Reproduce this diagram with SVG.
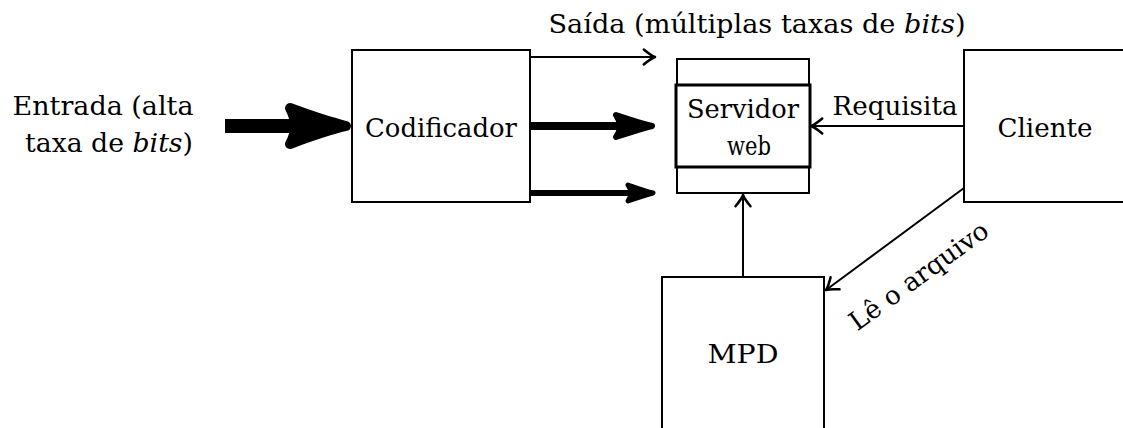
<svg xmlns="http://www.w3.org/2000/svg" width="1123" height="428" viewBox="0 0 1123 428">
<style>
text{font-family:'DejaVu Serif','Liberation Serif',serif;font-size:26px;fill:#000}
.box{fill:#fff;stroke:#000;stroke-width:2}
.thin{fill:none;stroke:#000;stroke-width:2}
</style>
<defs>
<marker id="to" markerUnits="userSpaceOnUse" markerWidth="20" markerHeight="20" viewBox="-12 -8 16 16" refX="0" refY="0" orient="auto">
<path d="M-9,-6 Q-3,-1 0,0 Q-3,1 -9,6" fill="none" stroke="#000" stroke-width="2" stroke-linecap="round" stroke-linejoin="round"/>
</marker>
</defs>
<g id="input-label">
<text x="103" y="115" text-anchor="middle" textLength="181" lengthAdjust="spacingAndGlyphs">Entrada (alta</text>
<text x="109" y="152" text-anchor="middle" textLength="168" lengthAdjust="spacingAndGlyphs">taxa de <tspan font-style="italic">bits</tspan>)</text>
</g>
<g id="output-label">
<text x="757" y="33" text-anchor="middle" textLength="417" lengthAdjust="spacingAndGlyphs">Saída (múltiplas taxas de <tspan font-style="italic">bits</tspan>)</text>
</g>
<g id="codificador">
<rect class="box" x="352" y="50" width="178" height="152"/>
<text x="441" y="137" text-anchor="middle" textLength="152" lengthAdjust="spacingAndGlyphs">Codificador</text>
</g>
<g id="servidor">
<rect class="box" x="677" y="59" width="132" height="134"/>
<rect x="676" y="85" width="134" height="82" fill="#fff" stroke="#000" stroke-width="3"/>
<text x="743" y="118" text-anchor="middle" textLength="112" lengthAdjust="spacingAndGlyphs">Servidor</text>
<text x="749" y="155" text-anchor="middle" textLength="44" lengthAdjust="spacingAndGlyphs">web</text>
</g>
<g id="cliente">
<rect class="box" x="964" y="50" width="178" height="152"/>
<text x="1045" y="137" text-anchor="middle" textLength="95" lengthAdjust="spacingAndGlyphs">Cliente</text>
</g>
<g id="mpd">
<rect class="box" x="662" y="277" width="162" height="160"/>
<text x="743" y="363" text-anchor="middle" textLength="71" lengthAdjust="spacingAndGlyphs">MPD</text>
</g>
<g id="connectors">
<line x1="225" y1="126" x2="330" y2="126" stroke="#000" stroke-width="14"/>
<path d="M290,108 Q325,121 346,126 Q325,131 290,144 Q300,126 290,108 Z" fill="#000" stroke="#000" stroke-width="10" stroke-linejoin="round"/>
<line class="thin" x1="530" y1="57" x2="655" y2="57" marker-end="url(#to)"/>
<line x1="530" y1="126" x2="640" y2="126" stroke="#000" stroke-width="8"/>
<path d="M616,115 Q640,123 652,126 Q640,129 616,137 Q624,126 616,115 Z" fill="#000" stroke="#000" stroke-width="6" stroke-linejoin="round"/>
<line x1="530" y1="193" x2="645" y2="193" stroke="#000" stroke-width="6"/>
<path d="M628,185 Q645,191 653,193 Q645,195 628,201 Q634,193 628,185 Z" fill="#000" stroke="#000" stroke-width="5" stroke-linejoin="round"/>
<line class="thin" x1="964" y1="126" x2="811" y2="126" marker-end="url(#to)"/>
<text x="895" y="115" text-anchor="middle" textLength="125" lengthAdjust="spacingAndGlyphs">Requisita</text>
<line class="thin" x1="743" y1="277" x2="743" y2="195" marker-end="url(#to)"/>
<line class="thin" x1="964" y1="188" x2="826" y2="290" marker-end="url(#to)"/>
<text transform="translate(924,283) rotate(-36)" x="0" y="0" text-anchor="middle" textLength="165" lengthAdjust="spacingAndGlyphs">Lê o arquivo</text>
</g>
</svg>
